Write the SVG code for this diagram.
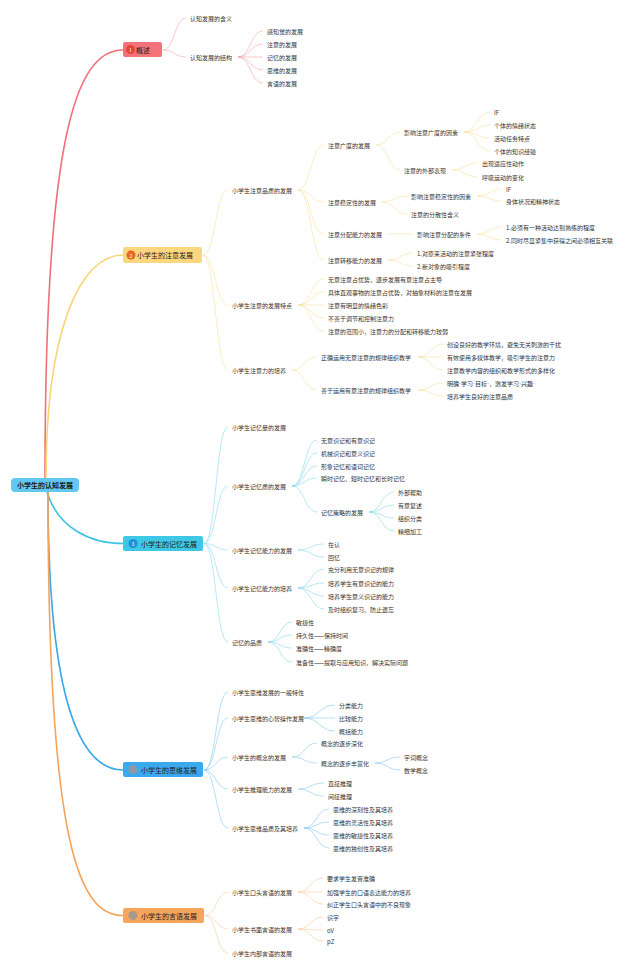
<svg xmlns="http://www.w3.org/2000/svg" width="640" height="970" viewBox="0 0 640 970">
<style>
text{font-family:"Noto Sans CJK SC","Noto Sans",sans-serif;dominant-baseline:central}
.t{font-size:6px;fill:#333}
.h{font-size:7px;fill:#222}
.r{font-size:7px;fill:#1a1a1a;font-weight:bold}
.n{font-size:5px;fill:#fff;text-anchor:middle}
.d{font-family:"Liberation Sans",sans-serif}
.l{fill:none;stroke-width:0.6}
.m{fill:none;stroke-width:1.6}
.c1{stroke:#f5a3ab}.c2{stroke:#f9df9c}.c3{stroke:#86d9ee}.c4{stroke:#86c8f2}.c5{stroke:#f8c89c}
</style>
<rect width="640" height="970" fill="#fff"/>
<g id="connectors">
<path class="m" stroke="#f0707a" d="M45 478C45 140 75 50 123 50"/>
<path class="m" stroke="#f8d478" d="M46 478C46 330 80 255 123 255"/>
<path class="m" stroke="#3ec3e3" d="M47 492C58 528 90 543.5 123 543.5"/>
<path class="m" stroke="#39a8ec" d="M48 492C48 700 80 770 123 770"/>
<path class="m" stroke="#f4a45a" d="M48 492C48 850 80 915.5 123 915.5"/>
<g class="l c1">
<path d="M163 50C174.5 50 174.5 18 186 18"/><path d="M163 50C174.5 50 174.5 57 186 57"/>
<path d="M238 57C250.5 57 250.5 31 263 31"/><path d="M238 57C250.5 57 250.5 44 263 44"/><path d="M238 57C250.5 57 250.5 57 263 57"/><path d="M238 57C250.5 57 250.5 70 263 70"/><path d="M238 57C250.5 57 250.5 83 263 83"/>
</g>
<g class="l c2">
<path d="M203 255C215.5 255 215.5 190 228 190"/><path d="M203 255C215.5 255 215.5 305 228 305"/><path d="M203 255C215.5 255 215.5 370 228 370"/>
<path d="M298 190C311 190 311 145 324 145"/><path d="M298 190C311 190 311 202 324 202"/><path d="M298 190C311 190 311 234 324 234"/><path d="M298 190C311 190 311 260 324 260"/>
<path d="M376 145C388 145 388 132 400 132"/><path d="M376 145C388 145 388 170 400 170"/>
<path d="M464 132C477 132 477 112 490 112"/><path d="M464 132C477 132 477 125 490 125"/><path d="M464 132C477 132 477 138 490 138"/><path d="M464 132C477 132 477 151 490 151"/>
<path d="M452 170C465 170 465 163 478 163"/><path d="M452 170C465 170 465 177 478 177"/>
<path d="M382 202C394.5 202 394.5 196 407 196"/><path d="M382 202C394.5 202 394.5 214 407 214"/>
<path d="M477 196C489.5 196 489.5 189 502 189"/><path d="M477 196C489.5 196 489.5 201 502 201"/>
<path d="M388 234L413 234"/>
<path d="M477 234C489.5 234 489.5 227 502 227"/><path d="M477 234C489.5 234 489.5 240 502 240"/>
<path d="M388 260C400.5 260 400.5 253 413 253"/><path d="M388 260C400.5 260 400.5 266 413 266"/>
<path d="M298 305C311 305 311 279 324 279"/><path d="M298 305C311 305 311 292 324 292"/><path d="M298 305C311 305 311 305 324 305"/><path d="M298 305C311 305 311 318 324 318"/><path d="M298 305C311 305 311 331 324 331"/>
<path d="M292 370C304.5 370 304.5 357 317 357"/><path d="M292 370C304.5 370 304.5 390 317 390"/>
<path d="M418 357C430.5 357 430.5 344 443 344"/><path d="M418 357C430.5 357 430.5 357 443 357"/><path d="M418 357C430.5 357 430.5 370 443 370"/>
<path d="M418 390C430.5 390 430.5 383 443 383"/><path d="M418 390C430.5 390 430.5 396 443 396"/>
</g>
<g class="l c3">
<path d="M204 543.5C216 543.5 216 427 228 427"/><path d="M204 543.5C216 543.5 216 486 228 486"/><path d="M204 543.5C216 543.5 216 550 228 550"/><path d="M204 543.5C216 543.5 216 588 228 588"/><path d="M204 543.5C216 543.5 216 642 228 642"/>
<path d="M292 486C304.5 486 304.5 440 317 440"/><path d="M292 486C304.5 486 304.5 453 317 453"/><path d="M292 486C304.5 486 304.5 466 317 466"/><path d="M292 486C304.5 486 304.5 478 317 478"/><path d="M292 486C304.5 486 304.5 512 317 512"/>
<path d="M369 512C381.5 512 381.5 492 394 492"/><path d="M369 512C381.5 512 381.5 505 394 505"/><path d="M369 512C381.5 512 381.5 518 394 518"/><path d="M369 512C381.5 512 381.5 531 394 531"/>
<path d="M298 550C311 550 311 544 324 544"/><path d="M298 550C311 550 311 557 324 557"/>
<path d="M298 588C311 588 311 569 324 569"/><path d="M298 588C311 588 311 583 324 583"/><path d="M298 588C311 588 311 596 324 596"/><path d="M298 588C311 588 311 609 324 609"/>
<path d="M268 642C280 642 280 622 292 622"/><path d="M268 642C280 642 280 635 292 635"/><path d="M268 642C280 642 280 648 292 648"/><path d="M268 642C280 642 280 662 292 662"/>
</g>
<g class="l c4">
<path d="M204 770C216 770 216 692 228 692"/><path d="M204 770C216 770 216 718 228 718"/><path d="M204 770C216 770 216 757 228 757"/><path d="M204 770C216 770 216 789 228 789"/><path d="M204 770C216 770 216 828 228 828"/>
<path d="M304 718C319.5 718 319.5 705 335 705"/><path d="M304 718C319.5 718 319.5 718 335 718"/><path d="M304 718C319.5 718 319.5 731 335 731"/>
<path d="M292 757C304.5 757 304.5 743 317 743"/><path d="M292 757C304.5 757 304.5 763 317 763"/>
<path d="M375 763C387.5 763 387.5 757 400 757"/><path d="M375 763C387.5 763 387.5 770 400 770"/>
<path d="M298 789C311 789 311 783 324 783"/><path d="M298 789C311 789 311 796 324 796"/>
<path d="M304 828C316.5 828 316.5 809 329 809"/><path d="M304 828C316.5 828 316.5 822 329 822"/><path d="M304 828C316.5 828 316.5 835 329 835"/><path d="M304 828C316.5 828 316.5 848 329 848"/>
</g>
<g class="l c5">
<path d="M205 915.5C216.5 915.5 216.5 892 228 892"/><path d="M205 915.5C216.5 915.5 216.5 929 228 929"/><path d="M205 915.5C216.5 915.5 216.5 953 228 953"/>
<path d="M298 892C310.5 892 310.5 878 323 878"/><path d="M298 892C310.5 892 310.5 892 323 892"/><path d="M298 892C310.5 892 310.5 904 323 904"/>
<path d="M298 929C310.5 929 310.5 917 323 917"/><path d="M298 929C310.5 929 310.5 930 323 930"/><path d="M298 929C310.5 929 310.5 941 323 941"/>
</g>
</g>
<g id="root"><rect x="11" y="478" width="68" height="14" rx="4" fill="#62c8f2"/><text class="r" x="45" y="485" text-anchor="middle">小学生的认知发展</text></g>
<g id="b1"><rect x="123" y="42" width="39" height="15" rx="2" fill="#f4737a"/><circle cx="130.5" cy="49.5" r="4.5" fill="#e8453a"/><text class="n" x="130.5" y="49.5">1</text><text class="h" x="136" y="49.5">概述</text></g>
<g id="b2"><rect x="123" y="247" width="79" height="16" rx="2" fill="#fcd77f"/><circle cx="131" cy="255" r="4.5" fill="#e9681f"/><text class="n" x="131" y="255">2</text><text class="h" x="137" y="255">小学生的注意发展</text></g>
<g id="b3"><rect x="123" y="536" width="80" height="15" rx="2" fill="#3fc7e6"/><circle cx="133" cy="543.5" r="4.5" fill="#1e8fdc"/><text class="n" x="133" y="543.5">3</text><text class="h" x="141" y="543.5">小学生的记忆发展</text></g>
<g id="b4"><rect x="123" y="762" width="80" height="15" rx="2" fill="#3ba9ef"/><circle cx="133" cy="769.5" r="4.5" fill="#8a9aa6"/><text class="h" x="141" y="769.5">小学生的思维发展</text></g>
<g id="b5"><rect x="123" y="908" width="81" height="15" rx="2" fill="#f6a55b"/><circle cx="133" cy="915.5" r="4.5" fill="#a8998a"/><text class="h" x="141" y="915.5">小学生的言语发展</text></g>
<g id="s-gaishu">
<g id="a1"><text class="t" x="190" y="18">认知发展的含义</text></g>
<g id="a2"><text class="t" x="190" y="57">认知发展的结构</text></g>
<g id="a2a"><text class="t" x="267" y="31">感知觉的发展</text></g>
<g id="a2b"><text class="t" x="267" y="44">注意的发展</text></g>
<g id="a2c"><text class="t" x="267" y="57">记忆的发展</text></g>
<g id="a2d"><text class="t" x="267" y="70">思维的发展</text></g>
<g id="a2e"><text class="t" x="267" y="83">言语的发展</text></g>
</g>
<g id="s-zhuyi">
<g id="bq"><text class="t" x="232" y="190">小学生注意品质的发展</text></g>
<g id="bq1"><text class="t" x="328" y="145">注意广度的发展</text></g>
<g id="bq11"><text class="t" x="404" y="132">影响注意广度的因素</text></g>
<g id="bq111"><text class="t" x="494" y="112">IF</text></g>
<g id="bq112"><text class="t" x="494" y="125">个体的情绪状态</text></g>
<g id="bq113"><text class="t" x="494" y="138">活动任务特点</text></g>
<g id="bq114"><text class="t" x="494" y="151">个体的知识经验</text></g>
<g id="bq12"><text class="t" x="404" y="170">注意的外部表现</text></g>
<g id="bq121"><text class="t" x="482" y="163">出现适应性动作</text></g>
<g id="bq122"><text class="t" x="482" y="177">呼吸运动的变化</text></g>
<g id="bq2"><text class="t" x="328" y="202">注意稳定性的发展</text></g>
<g id="bq21"><text class="t" x="411" y="196">影响注意稳定性的因素</text></g>
<g id="bq211"><text class="t" x="506" y="189">IF</text></g>
<g id="bq212"><text class="t" x="506" y="201">身体状况和精神状态</text></g>
<g id="bq22"><text class="t" x="411" y="214">注意的分散性含义</text></g>
<g id="bq3"><text class="t" x="328" y="234">注意分配能力的发展</text></g>
<g id="bq31"><text class="t" x="417" y="234">影响注意分配的条件</text></g>
<g id="bq311"><text class="t" x="506" y="227">1.必须有一种活动达到熟练的程度</text></g>
<g id="bq312"><text class="t" x="506" y="240">2.同时尽显紧集中获得之间必须相互关联</text></g>
<g id="bq4"><text class="t" x="328" y="260">注意转移能力的发展</text></g>
<g id="bq41"><text class="t" x="417" y="253">1.对原来活动的注意紧张程度</text></g>
<g id="bq42"><text class="t" x="417" y="266">2.新对象的吸引程度</text></g>
<g id="bt"><text class="t" x="232" y="305">小学生注意的发展特点</text></g>
<g id="bt1"><text class="t" x="328" y="279">无意注意占优势，逐步发展有意注意占主导</text></g>
<g id="bt2"><text class="t" x="328" y="292">具体直观事物的注意占优势，对抽象材料的注意在发展</text></g>
<g id="bt3"><text class="t" x="328" y="305">注意有明显的情绪色彩</text></g>
<g id="bt4"><text class="t" x="328" y="318">不善于调节和控制注意力</text></g>
<g id="bt5"><text class="t" x="328" y="331">注意的范围小，注意力的分配和转移能力较弱</text></g>
<g id="bp"><text class="t" x="232" y="370">小学生注意力的培养</text></g>
<g id="bp1"><text class="t" x="321" y="357">正确运用无意注意的规律组织教学</text></g>
<g id="bp11"><text class="t" x="447" y="344">创设良好的教学环境，避免无关刺激的干扰</text></g>
<g id="bp12"><text class="t" x="447" y="357">有效使用多媒体教学，吸引学生的注意力</text></g>
<g id="bp13"><text class="t" x="447" y="370">注意教学内容的组织和教学形式的多样化</text></g>
<g id="bp2"><text class="t" x="321" y="390">善于运用有意注意的规律组织教学</text></g>
<g id="bp21"><text class="t" x="447" y="383">明确<tspan class="d">·</tspan>学习<tspan class="d">·</tspan>目标<tspan class="d">·</tspan>，激发学习<tspan class="d">·</tspan>兴趣<tspan class="d">·</tspan></text></g>
<g id="bp22"><text class="t" x="447" y="396">培养学生良好的注意品质</text></g>
</g>
<g id="s-jiyi">
<g id="c1"><text class="t" x="232" y="427">小学生记忆量的发展</text></g>
<g id="c2"><text class="t" x="232" y="486">小学生记忆质的发展</text></g>
<g id="c21"><text class="t" x="321" y="440">无意识记和有意识记</text></g>
<g id="c22"><text class="t" x="321" y="453">机械识记和意义识记</text></g>
<g id="c23"><text class="t" x="321" y="466">形象记忆和语词记忆</text></g>
<g id="c24"><text class="t" x="321" y="478">瞬时记忆、短时记忆和长时记忆</text></g>
<g id="c25"><text class="t" x="321" y="512">记忆策略的发展</text></g>
<g id="c251"><text class="t" x="398" y="492">外部帮助</text></g>
<g id="c252"><text class="t" x="398" y="505">有意复述</text></g>
<g id="c253"><text class="t" x="398" y="518">组织分类</text></g>
<g id="c254"><text class="t" x="398" y="531">精细加工</text></g>
<g id="c3"><text class="t" x="232" y="550">小学生记忆能力的发展</text></g>
<g id="c31"><text class="t" x="328" y="544">在认</text></g>
<g id="c32"><text class="t" x="328" y="557">回忆</text></g>
<g id="c4"><text class="t" x="232" y="588">小学生记忆能力的培养</text></g>
<g id="c41"><text class="t" x="328" y="569">充分利用无意识记的规律</text></g>
<g id="c42"><text class="t" x="328" y="583">培养学生有意识记的能力</text></g>
<g id="c43"><text class="t" x="328" y="596">培养学生意义识记的能力</text></g>
<g id="c44"><text class="t" x="328" y="609">及时组织复习、防止遗忘</text></g>
<g id="c5"><text class="t" x="232" y="642">记忆的品质</text></g>
<g id="c51"><text class="t" x="296" y="622">敏捷性</text></g>
<g id="c52"><text class="t" x="296" y="635">持久性——保持时间</text></g>
<g id="c53"><text class="t" x="296" y="648">准确性——精确度</text></g>
<g id="c54"><text class="t" x="296" y="662">准备性——提取与应用知识，解决实际问题</text></g>
</g>
<g id="s-siwei">
<g id="d1"><text class="t" x="232" y="692">小学生思维发展的一般特性</text></g>
<g id="d2"><text class="t" x="232" y="718">小学生思维的心智操作发展</text></g>
<g id="d21"><text class="t" x="339" y="705">分类能力</text></g>
<g id="d22"><text class="t" x="339" y="718">比较能力</text></g>
<g id="d23"><text class="t" x="339" y="731">概括能力</text></g>
<g id="d3"><text class="t" x="232" y="757">小学生的概念的发展</text></g>
<g id="d31"><text class="t" x="321" y="743">概念的逐步深化</text></g>
<g id="d32"><text class="t" x="321" y="763">概念的逐步丰富化</text></g>
<g id="d321"><text class="t" x="404" y="757">字词概念</text></g>
<g id="d322"><text class="t" x="404" y="770">数学概念</text></g>
<g id="d4"><text class="t" x="232" y="789">小学生推理能力的发展</text></g>
<g id="d41"><text class="t" x="328" y="783">直接推理</text></g>
<g id="d42"><text class="t" x="328" y="796">间接推理</text></g>
<g id="d5"><text class="t" x="232" y="828">小学生思维品质及其培养</text></g>
<g id="d51"><text class="t" x="333" y="809">思维的深刻性及其培养</text></g>
<g id="d52"><text class="t" x="333" y="822">思维的灵活性及其培养</text></g>
<g id="d53"><text class="t" x="333" y="835">思维的敏捷性及其培养</text></g>
<g id="d54"><text class="t" x="333" y="848">思维的独创性及其培养</text></g>
</g>
<g id="s-yanyu">
<g id="e1"><text class="t" x="232" y="892">小学生口头言语的发展</text></g>
<g id="e11"><text class="t" x="327" y="878">要求学生发音准确</text></g>
<g id="e12"><text class="t" x="327" y="892">加强学生的口语表达能力的培养</text></g>
<g id="e13"><text class="t" x="327" y="904">纠正学生口头言语中的不良现象</text></g>
<g id="e2"><text class="t" x="232" y="929">小学生书面言语的发展</text></g>
<g id="e21"><text class="t" x="327" y="917">识字</text></g>
<g id="e22"><text class="t" x="327" y="930">oV</text></g>
<g id="e23"><text class="t" x="327" y="941">pZ</text></g>
<g id="e3"><text class="t" x="232" y="953">小学生内部言语的发展</text></g>
</g>
</svg>
